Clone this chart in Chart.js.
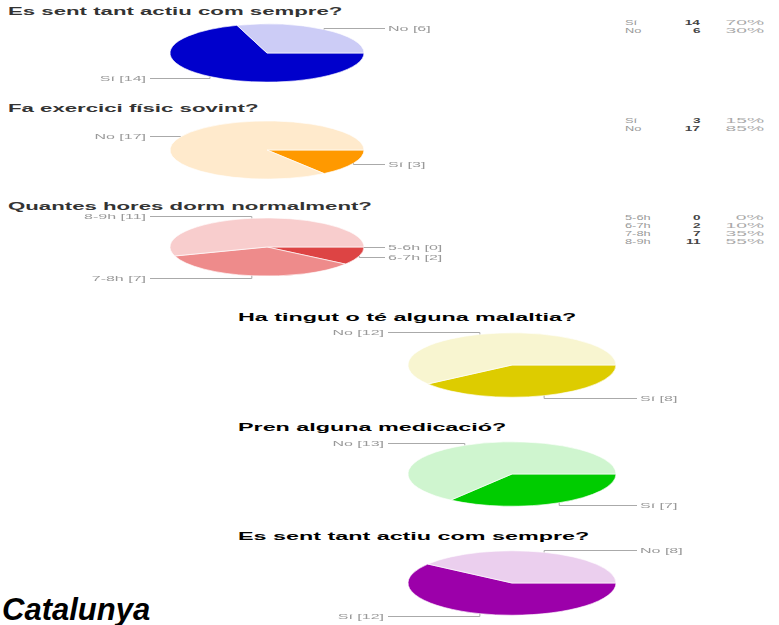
<!DOCTYPE html>
<html>
<head>
<meta charset="utf-8">
<script src="https://cdn.jsdelivr.net/npm/chart.js@4"></script>
<style>
  body{margin:0;width:779px;height:625px;overflow:hidden;position:relative;background:#fff;font-family:"Liberation Sans",Arial,sans-serif;}
  canvas{position:absolute;left:0;}
  .t{position:absolute;white-space:nowrap;font-weight:bold;transform-origin:0 0;}
  .t.up{font-size:10px;line-height:10px;color:#333;transform:scaleX(2.22);}
  .t.low{font-size:11px;line-height:11px;color:#000;transform:scaleX(2.12);}
  .cell{position:absolute;white-space:nowrap;font-size:8px;line-height:8px;}
  .cell.lab{color:#999;transform:scaleX(1.6);transform-origin:0 0;}
  .cell.num{color:#444;font-weight:bold;transform:scaleX(1.7);transform-origin:100% 0;}
  .cell.pct{color:#aaa;transform:scaleX(2.4);transform-origin:100% 0;}
  #cat{position:absolute;left:2px;top:594px;font-size:31px;line-height:31px;font-weight:bold;font-style:italic;color:#000;}
</style>
</head>
<body>
<div class="t up" style="left:8px;top:7px">Es sent tant actiu com sempre?</div>
<div class="t up" style="left:8px;top:104px">Fa exercici físic sovint?</div>
<div class="t up" style="left:8px;top:202px">Quantes hores dorm normalment?</div>
<div class="t low" style="left:238px;top:312px">Ha tingut o té alguna malaltia?</div>
<div class="t low" style="left:238px;top:422px">Pren alguna medicació?</div>
<div class="t low" style="left:238px;top:531px">Es sent tant actiu com sempre?</div>
<div id="cat">Catalunya</div>
<div id="tables"></div>

<canvas id="pie1" width="779" height="100" style="top:3px"></canvas>
<canvas id="pie2" width="779" height="100" style="top:100px"></canvas>
<canvas id="pie3" width="779" height="100" style="top:197px"></canvas>
<canvas id="pie4" width="779" height="100" style="top:315px"></canvas>
<canvas id="pie5" width="779" height="100" style="top:424px"></canvas>
<canvas id="pie6" width="779" height="100" style="top:533px"></canvas>

<script>
/* Respostes */
const ACTIU_LABELS = ["Sí", "No"];
const ACTIU_VALUES = [14, 6];
const EXERCICI_LABELS = ["Sí", "No"];
const EXERCICI_VALUES = [3, 17];
const SON_LABELS = ["5-6h", "6-7h", "7-8h", "8-9h"];
const SON_VALUES = [0, 2, 7, 11];
const MALALTIA_LABELS = ["Sí", "No"];
const MALALTIA_VALUES = [8, 12];
const MEDICACIO_LABELS = ["Sí", "No"];
const MEDICACIO_VALUES = [7, 13];
const ACTIU2_LABELS = ["Sí", "No"];
const ACTIU2_VALUES = [12, 8];

/* Colors */
const ACTIU_COLORS = ["#0000cc", "#ccccf6"];
const EXERCICI_COLORS = ["#ff9900", "#ffeacc"];
const SON_COLORS = ["#cc0000", "#dd4444", "#ee8b8b", "#f8cdcd"];
const MALALTIA_COLORS = ["#ddcc00", "#f8f5d0"];
const MEDICACIO_COLORS = ["#00cc00", "#cff5cf"];
const ACTIU2_COLORS = ["#9c00aa", "#ebcfee"];

/* Aixafa el pastís en una el·lipse i posa etiquetes amb línia */
const squashPlugin = {
  id: "squash",
  beforeDatasetsDraw(chart, args, opts){
    const arc = chart.getDatasetMeta(0).data[0];
    const ctx = chart.ctx;
    ctx.save();
    ctx.translate(0, arc.y);
    ctx.scale(1, opts.k);
    ctx.translate(0, -arc.y);
  },
  afterDatasetsDraw(chart, args, opts){
    const ctx = chart.ctx;
    ctx.restore();
    const meta = chart.getDatasetMeta(0);
    const values = chart.data.datasets[0].data;
    ctx.save();
    ctx.font = "8px 'Liberation Sans', Arial, sans-serif";
    ctx.textBaseline = "middle";
    ctx.strokeStyle = "#aaa";
    ctx.fillStyle = "#999";
    ctx.lineWidth = 1;
    meta.data.forEach((arc,i)=>{
      const r = arc.outerRadius;
      const a = (arc.startAngle + arc.endAngle)/2;
      const px = arc.x + r*Math.cos(a);
      const py = arc.y + r*opts.k*Math.sin(a);
      const ly = Math.round(py + Math.sin(a)*2) + 0.5;
      const right = Math.cos(a) >= -1e-6;
      const tx = right ? arc.x + r + 24 : arc.x - r - 24;
      const lx = right ? tx - 3 : tx + 4;
      ctx.beginPath();
      ctx.moveTo(px, py);
      ctx.lineTo(px, ly);
      ctx.lineTo(lx, ly);
      ctx.stroke();
      ctx.save();
      ctx.translate(tx, ly);
      ctx.scale(2, 1);
      ctx.textAlign = right ? "left" : "right";
      ctx.fillText(`${chart.data.labels[i]} [${values[i]}]`, 0, 0);
      ctx.restore();
    });
    ctx.restore();
  }
};

function makePie(id, labels, values, colors, cfg){
  new Chart(document.getElementById(id), {
    type: "pie",
    data: {labels, datasets: [{data: values, backgroundColor: colors, borderColor: "#fff", borderWidth: 1, radius: cfg.r, clip: false}]},
    options: {
      responsive: false,
      animation: false,
      events: [],
      rotation: 90,
      layout: {padding: cfg.pad},
      plugins: {legend: {display: false}, tooltip: {enabled: false}, squash: {k: cfg.k}}
    },
    plugins: [squashPlugin]
  });
}

const LEFT = {r: 97, k: 0.30, pad: {left: 0, right: 245, top: 0, bottom: 0}};
const RIGHT = {r: 104, k: 0.31, pad: {left: 245, right: 0, top: 0, bottom: 0}};

makePie("pie1", ACTIU_LABELS, ACTIU_VALUES, ACTIU_COLORS, LEFT);
makePie("pie2", EXERCICI_LABELS, EXERCICI_VALUES, EXERCICI_COLORS, LEFT);
makePie("pie3", SON_LABELS, SON_VALUES, SON_COLORS, LEFT);
makePie("pie4", MALALTIA_LABELS, MALALTIA_VALUES, MALALTIA_COLORS, RIGHT);
makePie("pie5", MEDICACIO_LABELS, MEDICACIO_VALUES, MEDICACIO_COLORS, RIGHT);
makePie("pie6", ACTIU2_LABELS, ACTIU2_VALUES, ACTIU2_COLORS, RIGHT);

/* Taules de recompte */
const tablesEl = document.getElementById("tables");
function addTable(labels, values, top){
  const total = values.reduce((a,b)=>a+b,0);
  labels.forEach((lab,i)=>{
    const y = top + i*8;
    const cells = [
      ["lab", lab, "left:625px"],
      ["num", values[i], "right:79px"],
      ["pct", Math.round(values[i]/total*100) + "%", "right:15px"]
    ];
    cells.forEach(([cls,txt,pos])=>{
      const d = document.createElement("div");
      d.className = "cell " + cls;
      d.textContent = txt;
      d.style.cssText = pos + ";top:" + y + "px";
      tablesEl.appendChild(d);
    });
  });
}
addTable(ACTIU_LABELS, ACTIU_VALUES, 19);
addTable(EXERCICI_LABELS, EXERCICI_VALUES, 117);
addTable(SON_LABELS, SON_VALUES, 214);
</script>
</body>
</html>
